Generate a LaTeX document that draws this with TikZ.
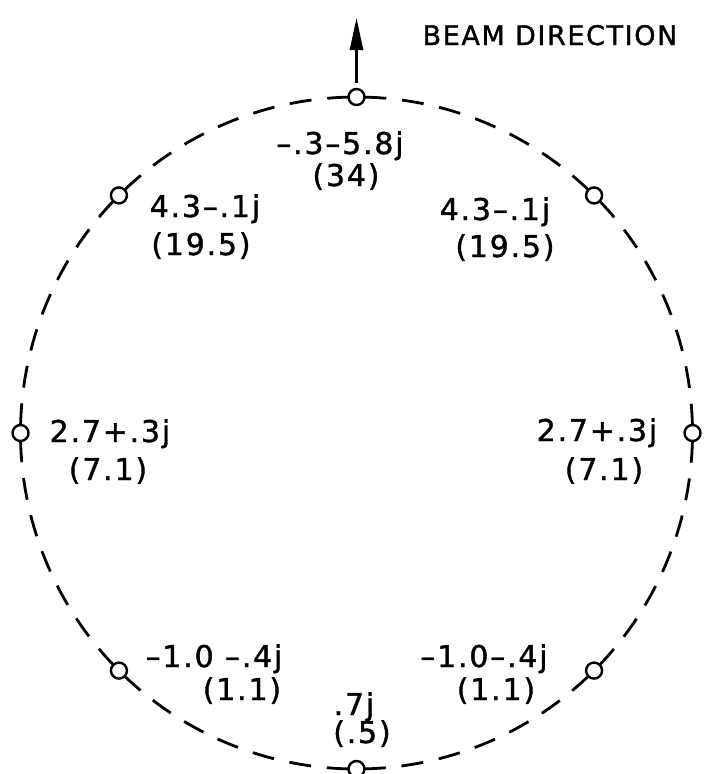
\documentclass[tikz,border=0pt]{standalone}
\usepackage{fontspec}
\setmainfont{DejaVu Sans}[LetterSpace=6,FakeBold=1.2]
\usetikzlibrary{arrows.meta,calc}
\begin{document}
\begin{tikzpicture}[x=1pt,y=-1pt,
  ring/.style={line width=2.8pt,dash pattern=on 22pt off 15.8pt,dash phase=22pt},
  solidarc/.style={line width=2.8pt},
  port/.style={circle,draw,line width=2.4pt,fill=white,minimum size=16pt,inner sep=0pt},
  lbl/.style={anchor=base,inner sep=0pt,font=\fontsize{30}{36}\selectfont},
  title/.style={anchor=base,inner sep=0pt,font=\fontsize{27}{32}\selectfont}]
\useasboundingbox (0,0) rectangle (709,774);
\coordinate (c) at (356.5,433);
% dashed arcs between ports
\foreach \a in {0,45,...,315}{
  \draw[ring] ($(c)+(\a+5:336pt)$) arc[start angle=\a+5,end angle=\a+40,radius=336pt];
  \draw[solidarc] ($(c)+(\a-5:336pt)$) arc[start angle=\a-5,end angle=\a+5,radius=336pt];
}
% ports
\foreach \a in {0,45,...,315}{
  \node[port] (p\a) at ($(c)+(\a:336pt)$) {};
}
% beam direction arrow
\coordinate (tip) at (356.5,18);
\draw[line width=2.6pt,-{Triangle[length=32pt,width=13pt]},shorten <=5pt] (p90) -- (tip);
\node[title] (beam) at (550,45) {BEAM DIRECTION};
% labels
\node[lbl] (t1) at (340,154) {–.3–5.8j};
\node[lbl] (t2) at (346,186) {(34)};
\node[lbl] (ul1) at (205,217) {4.3–.1j};
\node[lbl] (ul2) at (201,255) {(19.5)};
\node[lbl] (ur1) at (495,220) {4.3–.1j};
\node[lbl] (ur2) at (505,257) {(19.5)};
\node[lbl] (l1) at (110,442) {2.7+.3j};
\node[lbl] (l2) at (108,480) {(7.1)};
\node[lbl] (r1) at (597,441) {2.7+.3j};
\node[lbl] (r2) at (604,480) {(7.1)};
\node[lbl] (ll1) at (214,667) {–1.0 –.4j};
\node[lbl] (ll2) at (242,700) {(1.1)};
\node[lbl] (lr1) at (484,667) {–1.0–.4j};
\node[lbl] (lr2) at (496,700) {(1.1)};
\node[lbl] (b1) at (354,715) {.7j};
\node[lbl] (b2) at (362,743) {(.5)};
\end{tikzpicture}
\end{document}
